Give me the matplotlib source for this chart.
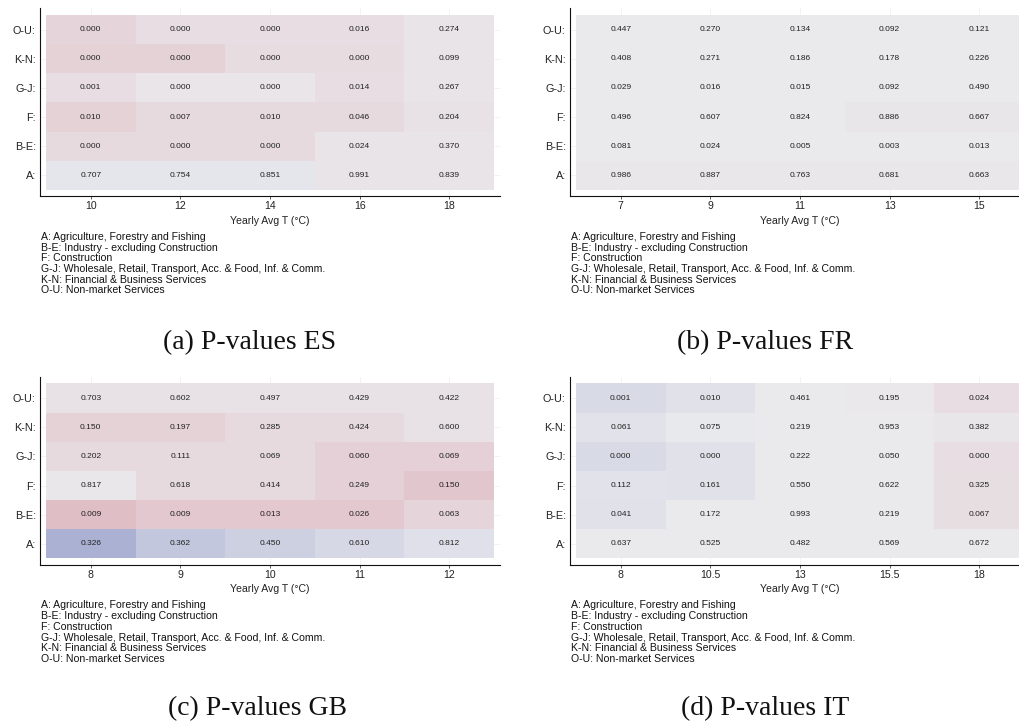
import numpy as np
import matplotlib
matplotlib.use("Agg")
import matplotlib.pyplot as plt
from matplotlib.colors import LinearSegmentedColormap, Normalize

plt.rcParams['font.family'] = ['Liberation Sans', 'DejaVu Sans']

# Sector rows, bottom to top
sectors = ['A', 'B-E', 'F', 'G-J', 'K-N', 'O-U']
sector_names = [
    'A: Agriculture, Forestry and Fishing',
    'B-E: Industry - excluding Construction',
    'F: Construction',
    'G-J: Wholesale, Retail, Transport, Acc. & Food, Inf. & Comm.',
    'K-N: Financial & Business Services',
    'O-U: Non-market Services',
]

# Temperature bins per country
temps_es = ['10', '12', '14', '16', '18']
temps_fr = ['7', '9', '11', '13', '15']
temps_gb = ['8', '9', '10', '11', '12']
temps_it = ['8', '10.5', '13', '15.5', '18']

# P-values (rows follow `sectors`)
pvals_es = [
    [0.707, 0.754, 0.851, 0.991, 0.839],
    [0.000, 0.000, 0.000, 0.024, 0.370],
    [0.010, 0.007, 0.010, 0.046, 0.204],
    [0.001, 0.000, 0.000, 0.014, 0.267],
    [0.000, 0.000, 0.000, 0.000, 0.099],
    [0.000, 0.000, 0.000, 0.016, 0.274],
]
pvals_fr = [
    [0.986, 0.887, 0.763, 0.681, 0.663],
    [0.081, 0.024, 0.005, 0.003, 0.013],
    [0.496, 0.607, 0.824, 0.886, 0.667],
    [0.029, 0.016, 0.015, 0.092, 0.490],
    [0.408, 0.271, 0.186, 0.178, 0.226],
    [0.447, 0.270, 0.134, 0.092, 0.121],
]
pvals_gb = [
    [0.326, 0.362, 0.450, 0.610, 0.812],
    [0.009, 0.009, 0.013, 0.026, 0.063],
    [0.817, 0.618, 0.414, 0.249, 0.150],
    [0.202, 0.111, 0.069, 0.060, 0.069],
    [0.150, 0.197, 0.285, 0.424, 0.600],
    [0.703, 0.602, 0.497, 0.429, 0.422],
]
pvals_it = [
    [0.637, 0.525, 0.482, 0.569, 0.672],
    [0.041, 0.172, 0.993, 0.219, 0.067],
    [0.112, 0.161, 0.550, 0.622, 0.325],
    [0.000, 0.000, 0.222, 0.050, 0.000],
    [0.061, 0.075, 0.219, 0.953, 0.382],
    [0.001, 0.010, 0.461, 0.195, 0.024],
]

# Signed effect shading used for the cell fill (-1 negative ... +1 positive)
shade_es = [
    [-0.06, -0.06, -0.06, 0.10, 0.10],
    [0.25, 0.25, 0.25, 0.10, 0.10],
    [0.38, 0.25, 0.25, 0.25, 0.12],
    [0.20, 0.08, 0.08, 0.20, 0.10],
    [0.38, 0.38, 0.22, 0.22, 0.10],
    [0.35, 0.20, 0.20, 0.20, 0.10],
]
shade_fr = [
    [0.05, 0.05, 0.05, 0.05, 0.05],
    [0.0, 0.0, 0.0, 0.0, 0.0],
    [0.0, 0.0, 0.0, 0.06, 0.06],
    [0.0, 0.0, 0.0, 0.0, 0.0],
    [0.0, 0.0, 0.0, 0.0, 0.0],
    [0.0, 0.0, 0.0, 0.0, 0.0],
]
shade_gb = [
    [-0.80, -0.49, -0.36, -0.25, -0.14],
    [0.68, 0.53, 0.53, 0.53, 0.35],
    [0.05, 0.25, 0.25, 0.40, 0.56],
    [0.25, 0.25, 0.25, 0.40, 0.40],
    [0.38, 0.38, 0.25, 0.25, 0.12],
    [0.12, 0.12, 0.12, 0.12, 0.12],
]
shade_it = [
    [0.0, 0.0, 0.0, 0.0, 0.0],
    [-0.12, 0.0, 0.0, 0.02, 0.18],
    [-0.10, -0.12, 0.0, 0.02, 0.18],
    [-0.22, -0.12, 0.0, 0.02, 0.20],
    [-0.10, -0.02, 0.0, 0.02, 0.06],
    [-0.22, -0.12, 0.0, 0.03, 0.20],
]

cmap = LinearSegmentedColormap.from_list('div', ['#9aa3cd', '#eaeaed', '#dcaab4'])
norm = Normalize(vmin=-1, vmax=1)

W, H = 1019, 725
fig = plt.figure(figsize=(W / 100, H / 100), dpi=100)


def add_panel(left, top, temps, pvals, shade):
    width, height = 460, 188
    ax = fig.add_axes([left / W, (H - top - height) / H, width / W, height / H])
    ncol, nrow = len(temps), len(sectors)
    ax.set_axisbelow(True)
    ax.grid(True, color='#eeeeee', lw=0.5)
    ax.pcolormesh(np.arange(ncol + 1) - 0.5, np.arange(nrow + 1) - 0.5,
                  np.array(shade), cmap=cmap, norm=norm, shading='flat',
                  antialiased=False, zorder=1)
    pv = np.array(pvals)
    for i in range(nrow):
        for j in range(ncol):
            ax.text(j, i, f'{pv[i, j]:.3f}', ha='center', va='center',
                    fontsize=6.0, color='#222222', zorder=3)
    ax.set_xlim(-0.567, ncol - 0.433)
    ax.set_ylim(-0.706, nrow - 0.26)
    ax.set_xticks(range(ncol))
    ax.set_xticklabels(temps)
    ax.set_yticks(range(nrow))
    ax.set_yticklabels([s + ':' for s in sectors])
    for side in ('top', 'right'):
        ax.spines[side].set_visible(False)
    for side in ('left', 'bottom'):
        ax.spines[side].set_linewidth(0.8)
        ax.spines[side].set_color('#111111')
    ax.tick_params(axis='x', length=2.2, width=0.6, color='#444444',
                   labelsize=7.6, pad=1.5, labelcolor='#222222')
    ax.tick_params(axis='y', length=0, labelsize=7.8, pad=3, labelcolor='#222222')

    cx = left + width / 2
    fig.text(cx / W, 1 - (top + 213) / H, 'Yearly Avg T (°C)', ha='center',
             va='center', fontsize=7.6, color='#222222')
    for k, line in enumerate(sector_names):
        fig.text((left + 1) / W, 1 - (top + 229 + 10.7 * k) / H, line,
                 ha='left', va='center', fontsize=7.6, color='#111111')
    return ax


add_panel(40, 8, temps_es, pvals_es, shade_es)
add_panel(570, 8, temps_fr, pvals_fr, shade_fr)
add_panel(40, 376.5, temps_gb, pvals_gb, shade_gb)
add_panel(570, 376.5, temps_it, pvals_it, shade_it)

serif = ['Liberation Serif', 'DejaVu Serif']
for x, y, s in [(250, 343, '(a) P-values ES'), (765, 343, '(b) P-values FR'),
                (257, 709, '(c) P-values GB'), (765, 709, '(d) P-values IT')]:
    fig.text(x / W, 1 - y / H, s, ha='center', va='center', fontsize=20,
             family=serif, color='#111111')

fig.savefig('out.png', dpi=100)
